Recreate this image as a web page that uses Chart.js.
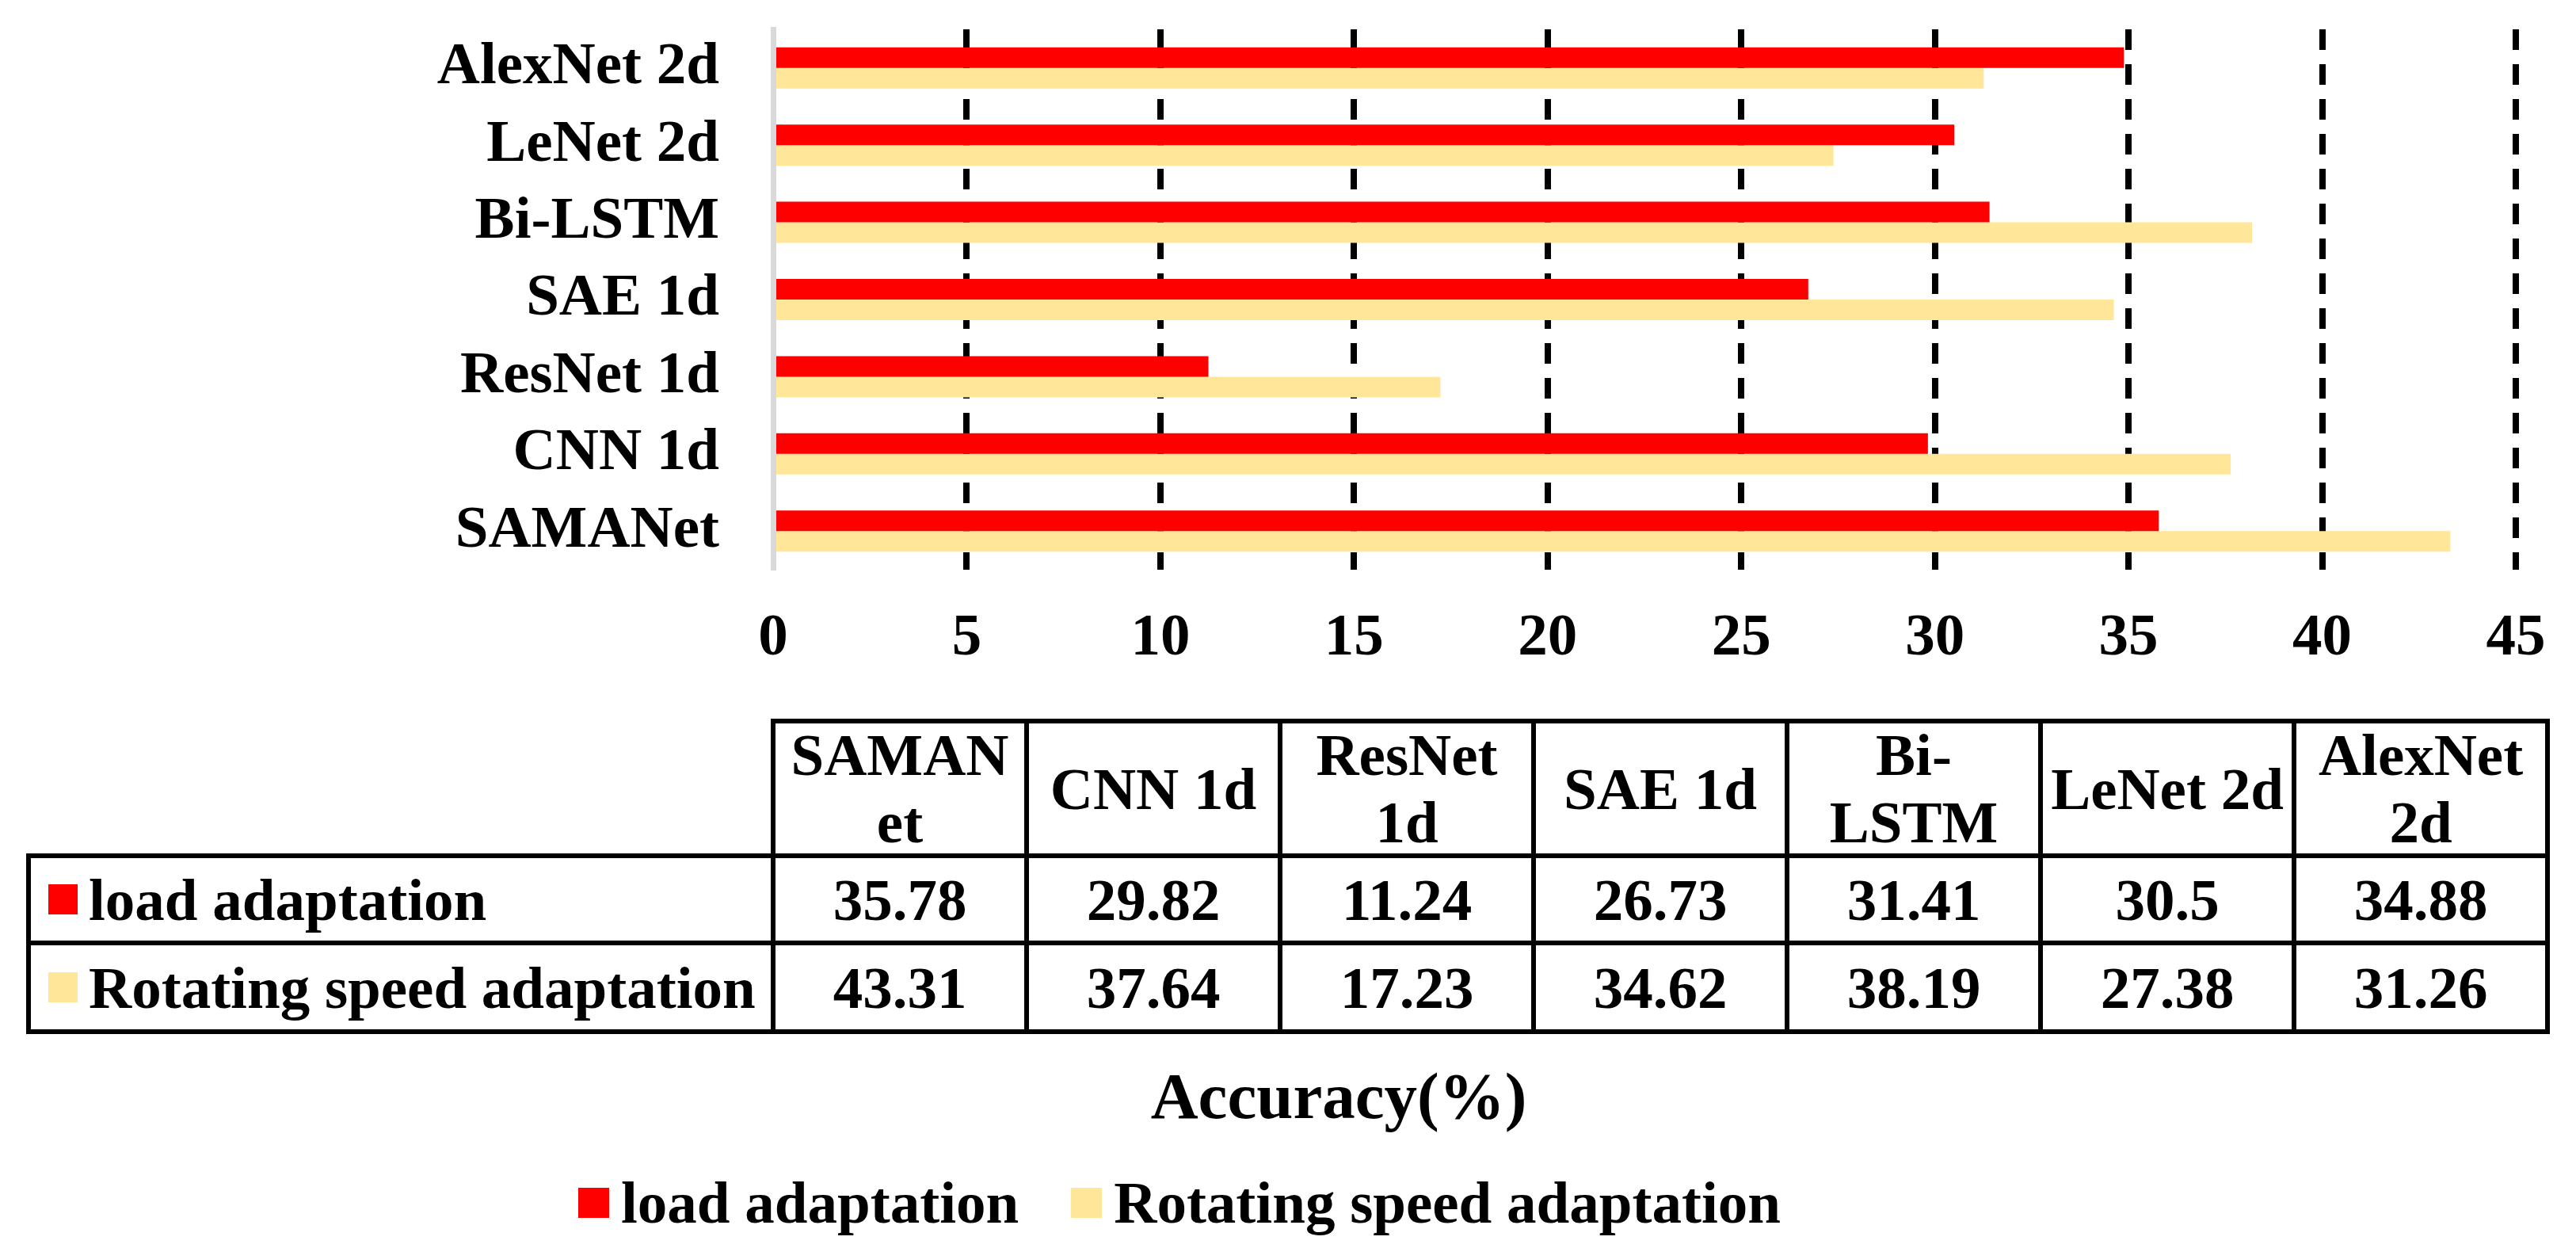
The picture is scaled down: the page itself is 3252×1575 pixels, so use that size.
<!DOCTYPE html>
<html>
<head>
<meta charset="utf-8">
<script src="https://cdn.jsdelivr.net/npm/chart.js@4.4.1/dist/chart.umd.min.js"></script>
<style>
  html, body { margin: 0; padding: 0; background: #ffffff; }
  #wrap { position: relative; width: 3252px; height: 1575px; overflow: hidden;
          font-family: 'Liberation Serif', 'Times New Roman', serif; font-weight: bold; color: #000; }
  #chart { position: absolute; left: 0; top: 0; }
  .hl, .vl { position: absolute; background: #000; }
  .cell { position: absolute; display: flex; align-items: center; justify-content: center;
          text-align: center; font-size: 75px; line-height: 85px; white-space: pre-line; }
  .rowlab { justify-content: flex-start; white-space: nowrap; }
  .sw { display: inline-block; width: 37px; height: 38px; flex: none; }
  #title { position: absolute; top: 1342px; left: 1690px; transform: translateX(-50%);
           font-size: 83px; line-height: 83px; white-space: nowrap; }
  #legend { position: absolute; left: 730px; top: 1480px; display: flex; align-items: center;
            font-size: 75px; line-height: 75px; white-space: nowrap; }
  #legend .sw { width: 39px; height: 38px; }
</style>
</head>
<body>
<div id="wrap">
  <canvas id="chart" width="3252" height="1575"></canvas>
  <div id="table"></div>
  <div id="title"></div>
  <div id="legend"></div>
</div>
<script>
// ---------------- data ----------------
const categories = ["SAMANet", "CNN 1d", "ResNet 1d", "SAE 1d", "Bi-LSTM", "LeNet 2d", "AlexNet 2d"];
const tableHeaders = ["SAMAN\net", "CNN 1d", "ResNet\n1d", "SAE 1d", "Bi-\nLSTM", "LeNet 2d", "AlexNet\n2d"];
const loadAdaptation = [35.78, 29.82, 11.24, 26.73, 31.41, 30.5, 34.88];
const speedAdaptation = [43.31, 37.64, 17.23, 34.62, 38.19, 27.38, 31.26];
const seriesNames = ["load adaptation", "Rotating speed adaptation"];
const seriesColors = ["#FF0000", "#FFE699"];
const xMin = 0, xMax = 45, xStep = 5;
const axisTitle = "Accuracy(%)";

// ---------------- chart ----------------
const FONT = "'Liberation Serif', 'Times New Roman', serif";
const tickFont = { family: FONT, size: 75, weight: 'bold' };

new Chart(document.getElementById('chart').getContext('2d'), {
  type: 'bar',
  data: {
    labels: categories,
    datasets: [
      { label: seriesNames[0], data: loadAdaptation, backgroundColor: seriesColors[0],
        categoryPercentage: 0.534, barPercentage: 1.0 },
      { label: seriesNames[1], data: speedAdaptation, backgroundColor: seriesColors[1],
        categoryPercentage: 0.534, barPercentage: 1.0 }
    ]
  },
  options: {
    indexAxis: 'y',
    responsive: false,
    animation: false,
    devicePixelRatio: 1,
    layout: { padding: { top: 37, right: 76, bottom: 0, left: 0 } },
    plugins: { legend: { display: false }, tooltip: { enabled: false }, title: { display: false } },
    scales: {
      x: {
        min: xMin, max: xMax,
        ticks: { stepSize: xStep, color: '#000', font: tickFont, padding: 43 },
        grid: {
          drawTicks: false,
          lineWidth: 8,
          color: (c) => (c.tick && c.tick.value === 0) ? 'rgba(0,0,0,0)' : '#000'
        },
        border: { display: false, dash: [26, 18] },
        afterFit: (s) => { s.height = 856; s.paddingLeft = 0; s.paddingRight = 0; }
      },
      y: {
        reverse: true,
        ticks: { color: '#000', font: tickFont, padding: 68, autoSkip: false },
        grid: { display: false, drawTicks: false },
        border: { display: true, color: '#D9D9D9', width: 7 },
        afterFit: (s) => { s.width = 976; s.paddingTop = 0; s.paddingBottom = 0; }
      }
    }
  }
});

// ---------------- data table (HTML) ----------------
const tbl = document.getElementById('table');
const tLeft = 36, firstW = 940, colW = 320, LW = 6;
const rowsY = [910, 1080, 1190, 1302];
const colX = [tLeft, tLeft + firstW];
for (let i = 1; i <= categories.length; i++) colX.push(tLeft + firstW + i * colW);
const tRight = colX[colX.length - 1];
function line(cls, x, y, w, h) {
  const d = document.createElement('div'); d.className = cls;
  d.style.left = x + 'px'; d.style.top = y + 'px'; d.style.width = w + 'px'; d.style.height = h + 'px';
  tbl.appendChild(d);
}
// horizontal lines
line('hl', colX[1] - LW / 2, rowsY[0] - LW / 2, tRight - colX[1] + LW, LW);
for (let r = 1; r < rowsY.length; r++) line('hl', colX[0] - LW / 2, rowsY[r] - LW / 2, tRight - colX[0] + LW, LW);
// vertical lines
line('vl', colX[0] - LW / 2, rowsY[1], LW, rowsY[3] - rowsY[1]);
for (let c = 1; c < colX.length; c++) line('vl', colX[c] - LW / 2, rowsY[0], LW, rowsY[3] - rowsY[0]);

function cell(x, y, w, h, html, extra) {
  const d = document.createElement('div'); d.className = 'cell' + (extra ? ' ' + extra : '');
  d.style.left = x + 'px'; d.style.top = y + 'px'; d.style.width = w + 'px'; d.style.height = h + 'px';
  if (typeof html === 'string') d.textContent = html; else d.appendChild(html);
  tbl.appendChild(d);
  return d;
}
tableHeaders.forEach((h, i) => cell(colX[i + 1], rowsY[0], colW, rowsY[1] - rowsY[0], h));
const seriesVals = [loadAdaptation, speedAdaptation];
seriesNames.forEach((name, r) => {
  const y0 = rowsY[r + 1], hgt = rowsY[r + 2] - rowsY[r + 1];
  const frag = document.createElement('div');
  frag.style.display = 'flex'; frag.style.alignItems = 'center';
  const sw = document.createElement('span'); sw.className = 'sw'; sw.style.background = seriesColors[r];
  sw.style.marginRight = '14px';
  const tx = document.createElement('span'); tx.textContent = name;
  frag.appendChild(sw); frag.appendChild(tx);
  const c = cell(colX[0], y0, firstW, hgt, frag, 'rowlab');
  c.style.paddingLeft = '25px'; c.style.boxSizing = 'border-box';
  seriesVals[r].forEach((v, i) => cell(colX[i + 1], y0, colW, hgt, String(v)));
});

// ---------------- title & legend ----------------
document.getElementById('title').textContent = axisTitle;
const lg = document.getElementById('legend');
seriesNames.forEach((name, i) => {
  const sw = document.createElement('span'); sw.className = 'sw'; sw.style.background = seriesColors[i];
  sw.style.marginRight = '15px';
  const tx = document.createElement('span'); tx.textContent = name;
  if (i === 0) tx.style.marginRight = '66px';
  lg.appendChild(sw); lg.appendChild(tx);
});
</script>
</body>
</html>
